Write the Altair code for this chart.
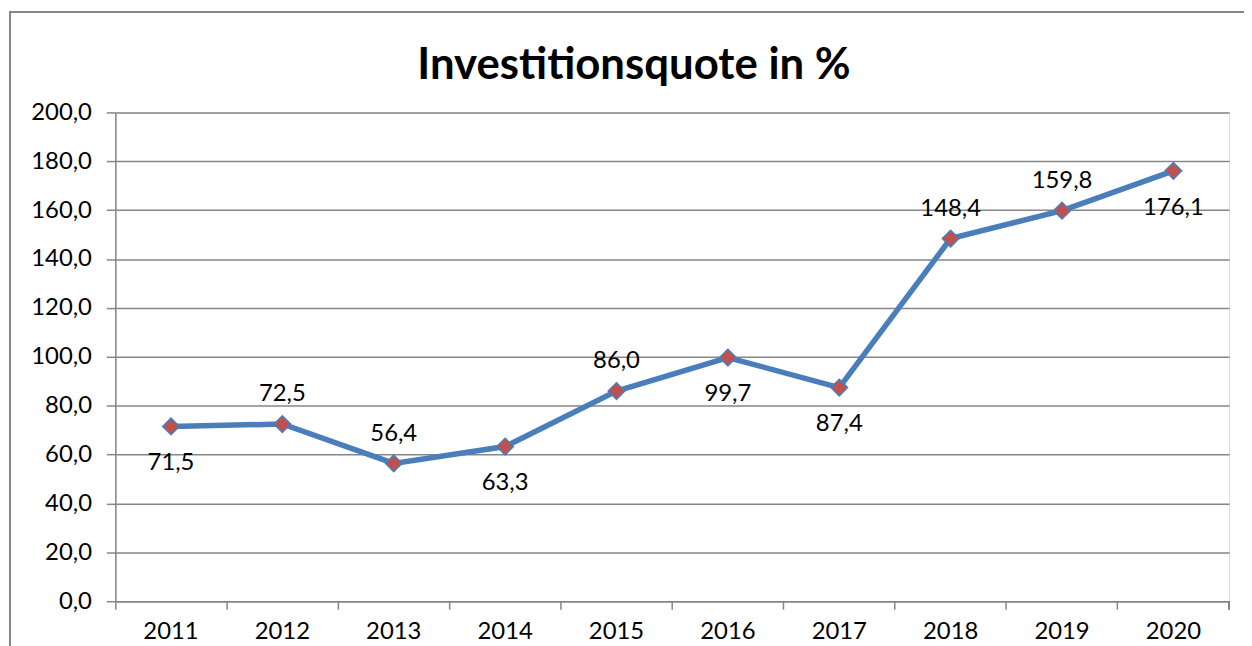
import altair as alt
import pandas as pd

years = ["2011", "2012", "2013", "2014", "2015", "2016", "2017", "2018", "2019", "2020"]
values = [71.5, 72.5, 56.4, 63.3, 86.0, 99.7, 87.4, 148.4, 159.8, 176.1]
label_side = ["below", "above", "above", "below", "above", "below", "below", "above", "above", "below"]
y_ticks = [0, 20, 40, 60, 80, 100, 120, 140, 160, 180, 200]
title_text = "Investitionsquote in %"

df = pd.DataFrame({"year": years, "value": values, "side": label_side})

FONT = "Lato"
GRID = "#868686"
W, H = 1121, 492
FS = 24

x_enc = alt.X("year:N", sort=years,
              scale=alt.Scale(type="band", paddingInner=0, paddingOuter=0),
              axis=alt.Axis(title=None, bandPosition=0, grid=False, domainColor=GRID,
                            domainWidth=1.5, tickColor=GRID, tickWidth=1.5, tickSize=8,
                            labelAngle=0, labelFontSize=FS, labelFont=FONT, labelColor="#000000",
                            labelPadding=11))
y_enc = alt.Y("value:Q", scale=alt.Scale(domain=[0, 200], nice=False),
              axis=alt.Axis(title=None, values=y_ticks, grid=True, gridColor=GRID, gridWidth=1.5,
                            domainColor=GRID, domainWidth=1.5, tickColor=GRID, tickWidth=1.5,
                            tickSize=9, labelFontSize=FS, labelFont=FONT, labelColor="#000000",
                            labelPadding=15,
                            labelExpr="replace(format(datum.value, '.1f'), '.', ',')"))

base = alt.Chart(df).encode(x=x_enc, y=y_enc)

line = base.mark_line(color="#4A7EBB", strokeWidth=5.5)
points = base.mark_point(shape="diamond", filled=True, size=280, fill="#C0504D",
                         stroke="#4A7EBB", strokeWidth=1.5, opacity=1)

lab = base.transform_calculate(
    txt="replace(format(datum.value, '.1f'), '.', ',')"
)
above = lab.transform_filter(alt.datum.side == "above").mark_text(
    font=FONT, fontSize=FS, color="#000000", dy=-30
).encode(text="txt:N")
below = lab.transform_filter(alt.datum.side == "below").mark_text(
    font=FONT, fontSize=FS, color="#000000", dy=37
).encode(text="txt:N")

end_tick = alt.Chart(df).mark_rule(color=GRID, strokeWidth=1.5).encode(
    x=alt.value(W), y=alt.value(H), y2=alt.value(H + 8)
)

border = alt.Chart(df).mark_rect(fill=None, stroke=GRID, strokeWidth=1.5).encode(
    x=alt.value(-106), x2=alt.value(W + 40), y=alt.value(-101), y2=alt.value(H + 80)
)

title = alt.Chart(pd.DataFrame({"t": [title_text]})).mark_text(
    font=FONT, fontSize=44, fontWeight="bold", color="#000000",
    align="center", baseline="alphabetic"
).encode(text="t:N", x=alt.value(522), y=alt.value(-34))

chart = alt.layer(border, line, points, above, below, end_tick, title).properties(
    width=W, height=H,
    autosize=alt.AutoSizeParams(type="none"),
    padding={"left": 108, "top": 103, "right": 15, "bottom": 43},
).configure_view(stroke=None).configure(background="white")

chart.save("out.html", embed_options={"renderer": "svg", "actions": False})
